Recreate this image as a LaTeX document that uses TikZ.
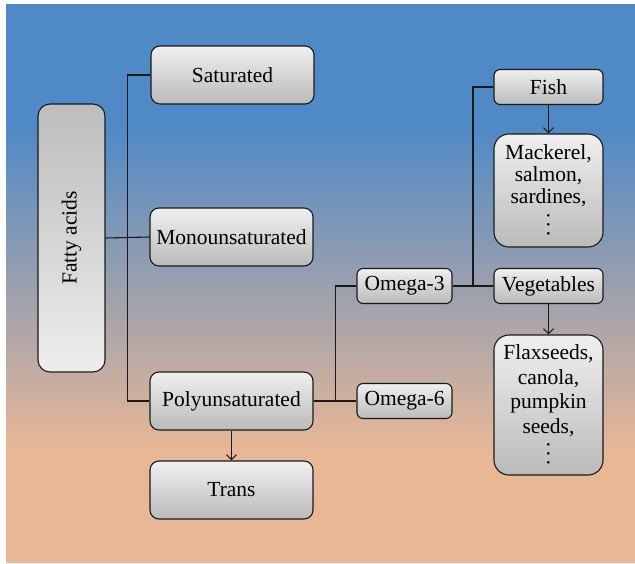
\documentclass[tikz,border=0pt]{standalone}
\usepackage{fontspec}
\setmainfont{Liberation Serif}
\usetikzlibrary{arrows.meta,calc}
\definecolor{bgtop}{RGB}{79,137,198}
\definecolor{bgbot}{RGB}{232,183,150}
\newcommand{\dotcol}{\rotatebox{90}{.\,.\,.}}

\begin{document}
\begin{tikzpicture}[x=1pt,y=-1pt,
  box/.style={draw=black!90,line width=1.1pt,top color=black!6,bottom color=black!27,
    align=center,inner sep=0pt,font=\fontsize{21.5}{22}\selectfont},
  bigbox/.style={box,rounded corners=9pt,minimum width=163pt,minimum height=58pt},
  smallbox/.style={box,rounded corners=6pt,minimum height=35pt},
  listbox/.style={box,rounded corners=15pt,minimum width=109pt},
  link/.style={line width=1.1pt,black!90},
  arr/.style={link,-{Straight Barb[length=5pt,width=10pt]}}]
\useasboundingbox (0,0) rectangle (635,563);
\fill[white] (0,0) rectangle (635,563);
\fill[bgtop] (6,4) rectangle (635,126);
\shade[top color=bgtop,bottom color=bgbot] (6,125) rectangle (635,452);
\fill[bgbot] (6,451) rectangle (635,563);
\node[box,rounded corners=12pt,top color=black!26,bottom color=black!7,minimum width=67pt,minimum height=268pt,
  label={[rotate=90,font=\fontsize{21.5}{22}\selectfont]center:Fatty acids}] (fatty) at (71.5,238) {};
\node[bigbox] (sat) at (232.5,75) {Saturated};
\node[bigbox] (mono) at (231.5,237) {Monounsaturated};
\node[bigbox] (poly) at (231.5,401) {Polyunsaturated};
\node[bigbox] (trans) at (231.5,490) {Trans};
\node[smallbox,minimum width=95pt] (om3) at (404.5,286) {Omega-3};
\node[smallbox,minimum width=95pt] (om6) at (404.5,401) {Omega-6};
\node[smallbox,minimum width=109pt] (fish) at (548.5,87) {Fish};
\node[listbox,minimum height=113pt] (mack) at (548.5,190.5) {Mackerel,\\salmon,\\sardines,\\[6pt]\dotcol};
\node[listbox,minimum height=140pt,font=\fontsize{21.5}{24.5}\selectfont] (flax) at (548.5,405) {Flaxseeds,\\canola,\\pumpkin\\seeds,\\[4pt]\dotcol};
\node[smallbox,minimum width=109pt] (veg) at (548.5,286) {Vegetables};
\draw[link] (fatty.east) -- (mono.west);
\draw[link] (sat.west) -- ++(-23,0) |- (poly.west);
\draw[arr] (poly) -- (trans);
\draw[link] (poly.east) -- ++(22,0) |- (om3.west);
\draw[link] (poly.east) -- (om6.west);
\draw[link] (om3.east) -- (veg.west);
\draw[link] (fish.west) -| ($(om3.east)!.5!(veg.west)$);
\draw[arr] (fish) -- (mack);
\draw[arr] (veg) -- (flax);
\end{tikzpicture}
\end{document}
